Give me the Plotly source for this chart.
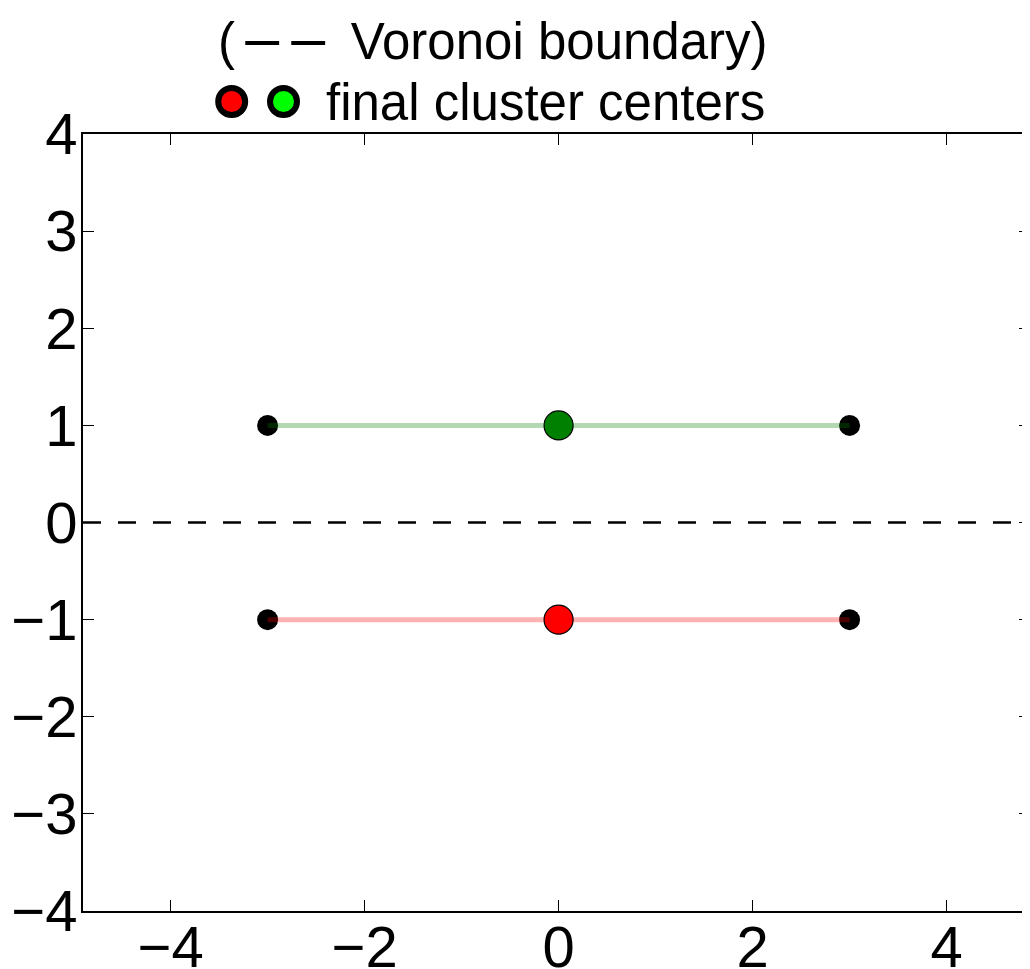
import plotly.graph_objects as go

# ---- data ----
row_y = [-1, 1]                     # red cluster row, green cluster row
end_x = [-3, 3]                     # data points at the ends of each row
center_x = [0, 0]
center_y = [-1, 1]
center_colors = ["#ff0000", "#008000"]
line_colors = ["rgba(255,0,0,0.3)", "rgba(0,128,0,0.3)"]
boundary_y = 0
x_ticks = [-4, -2, 0, 2, 4]
x_ticktext = ["\u22124", "\u22122", "0", "2", "4"]
y_ticks = [-4, -3, -2, -1, 0, 1, 2, 3, 4]
y_ticktext = ["\u22124", "\u22123", "\u22122", "\u22121", "0", "1", "2", "3", "4"]
x_range = [-4.903, 4.86]
y_range = [-4, 4]
title_line1 = ("(\u2009<span style='font-size:61px'>\u2013\u2009\u2013</span>"
               "\u2002Voronoi boundary)")
title_line2 = "final cluster centers"
legend_dot_colors = ["#ff0000", "#00ff00"]

FONT = "Liberation Sans, Arial, sans-serif"

# page body has an 8px margin, so the figure is 8px smaller than the window
OFF = 8
W, H = 1030 - OFF, 969 - OFF
ML, MR, MT, MB = 83 - OFF, 0, 134 - OFF, 58

fig = go.Figure()

# black data points
pts_x, pts_y = [], []
for yy in row_y:
    for xx in end_x:
        pts_x.append(xx)
        pts_y.append(yy)
fig.add_trace(go.Scatter(x=pts_x, y=pts_y, mode="markers",
                         marker=dict(size=21, color="black", line=dict(width=0)),
                         showlegend=False, hoverinfo="skip"))

# translucent lines from points to centers
for yy, lc in zip(row_y, line_colors):
    fig.add_trace(go.Scatter(x=end_x, y=[yy, yy], mode="lines",
                             line=dict(color=lc, width=5),
                             showlegend=False, hoverinfo="skip"))

# cluster centers
for cx, cy, cc in zip(center_x, center_y, center_colors):
    fig.add_trace(go.Scatter(x=[cx], y=[cy], mode="markers",
                             marker=dict(size=29, color=cc, line=dict(color="black", width=1.2)),
                             showlegend=False, hoverinfo="skip"))

# dummy trace for mirrored tick axes
fig.add_trace(go.Scatter(x=[], y=[], xaxis="x2", yaxis="y2", showlegend=False, hoverinfo="skip"))

# Voronoi boundary
fig.add_shape(type="line", xref="paper", yref="y", x0=0, x1=1, y0=boundary_y, y1=boundary_y,
              line=dict(color="black", width=2.6, dash="18px,17px"))

# helpers: screen pixel -> paper coords
plot_w = W - ML - MR
plot_h = H - MT - MB
def px_to_paper_x(px):
    return (px - OFF - ML) / plot_w
def px_to_paper_y(py):
    return 1 + (MT - (py - OFF)) / plot_h

for cxp, col in zip([231.7, 283.5], legend_dot_colors):
    fig.add_shape(type="circle", xref="paper", yref="paper",
                  xsizemode="pixel", ysizemode="pixel",
                  xanchor=px_to_paper_x(cxp), yanchor=px_to_paper_y(101.5),
                  x0=-13.5, x1=13.5, y0=-13.5, y1=13.5,
                  fillcolor=col, line=dict(color="black", width=6))

fig.add_annotation(text=title_line1, xref="paper", yref="paper",
                   x=px_to_paper_x(492.5), y=px_to_paper_y(38), xanchor="center", yanchor="middle",
                   showarrow=False, font=dict(family=FONT, size=51, color="black"))
fig.add_annotation(text=title_line2, xref="paper", yref="paper",
                   x=px_to_paper_x(545), y=px_to_paper_y(102), xanchor="center", yanchor="middle",
                   showarrow=False, font=dict(family=FONT, size=51, color="black"))

tickfont = dict(family=FONT, size=58, color="black")
fig.update_layout(
    width=W, height=H,
    margin=dict(l=ML, r=MR, t=MT, b=MB, pad=0, autoexpand=False),
    paper_bgcolor="white", plot_bgcolor="white",
    xaxis=dict(range=x_range, tickvals=x_ticks, ticktext=x_ticktext, ticks="inside",
               ticklen=11, tickwidth=1, tickcolor="black", showline=True, linewidth=2,
               linecolor="black", mirror=True, showgrid=False, zeroline=False,
               tickfont=tickfont, fixedrange=True, automargin=False, ticklabelstandoff=-16),
    xaxis2=dict(overlaying="x", matches="x", side="top", tickvals=x_ticks, ticks="inside",
                ticklen=11, tickwidth=1, tickcolor="black", showticklabels=False,
                showline=False, showgrid=False, zeroline=False, automargin=False),
    yaxis=dict(range=y_range, tickvals=y_ticks, ticktext=y_ticktext, ticks="inside",
               ticklen=11, tickwidth=1, tickcolor="black", showline=True, linewidth=2,
               linecolor="black", mirror=False, showgrid=False, zeroline=False,
               tickfont=tickfont, fixedrange=True, automargin=False, ticklabelstandoff=-8),
    yaxis2=dict(overlaying="y", matches="y", side="right", tickvals=y_ticks, ticks="inside",
                ticklen=11, tickwidth=1, tickcolor="black", showticklabels=False,
                showline=False, showgrid=False, zeroline=False, automargin=False),
)

fig.write_html("out.html")
